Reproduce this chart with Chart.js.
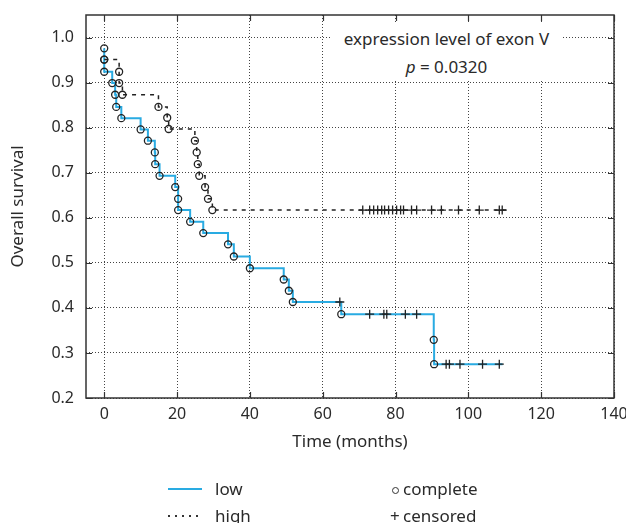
<!DOCTYPE html>
<html>
<head>
<meta charset="utf-8">
<script src="https://cdn.jsdelivr.net/npm/chart.js@4/dist/chart.umd.min.js"></script>
<style>
  html, body { margin: 0; padding: 0; background: #fff; }
  #wrap { position: relative; width: 626px; height: 523px; font-family: "Noto Sans", sans-serif; color: #2a2a2a; }
  #c { position: absolute; left: 0; top: 0; }
  .note { position: absolute; left: 330px; top: 22px; width: 233px; height: 57px; background: #fff; text-align: center; font-size: 17px; }
  .note .l1 { position: absolute; left: 0; right: 0; top: 5px; line-height: 24px; }
  .note .l2 { position: absolute; left: 0; right: 0; top: 33px; line-height: 24px; }
  .lg { position: absolute; font-size: 17px; line-height: 22px; white-space: nowrap; }
  .swatch { position: absolute; }
</style>
</head>
<body>
<div id="wrap">
  <canvas id="c" width="626" height="523"></canvas>
  <div class="note"><div class="l1">expression level of exon V</div><div class="l2"><i>p</i> = 0.0320</div></div>
  <div class="swatch" style="left:168px; top:488px; width:34px; height:2px; background:#29abe2;"></div>
  <div class="lg" style="left:215px; top:478px;">low</div>
  <div class="swatch" style="left:168px; top:515px; width:34px; height:2px; background-image:repeating-linear-gradient(to right,#333 0 2px,transparent 2px 7px);"></div>
  <div class="lg" style="left:215px; top:505px;">high</div>
  <div class="swatch" style="left:392px; top:487px; width:5px; height:5px; border:1.2px solid #333; border-radius:50%;"></div>
  <div class="lg" style="left:403px; top:478px;">complete</div>
  <div class="lg" style="left:390px; top:505px;">+</div>
  <div class="lg" style="left:403px; top:505px;">censored</div>
</div>
<script>
// ---- data ----
const xTicks = [0, 20, 40, 60, 80, 100, 120, 140];
const yTicks = [0.2, 0.3, 0.4, 0.5, 0.6, 0.7, 0.8, 0.9, 1.0];

// "low" group: event times (months) and survival after each event
const lowEventTimes = [0, 0, 0, 2.2, 3.0, 3.3, 4.7, 10.0, 12.0, 13.9, 14.0, 15.2, 19.5, 20.3, 20.3, 23.6, 27.2, 34.0, 35.6, 40.0, 49.3, 50.7, 51.8, 65.1, 90.5, 90.6];
const lowEventSurv  = [0.976, 0.951, 0.924, 0.899, 0.873, 0.846, 0.821, 0.796, 0.771, 0.745, 0.719, 0.693, 0.668, 0.642, 0.617, 0.591, 0.566, 0.541, 0.514, 0.488, 0.463, 0.438, 0.413, 0.386, 0.329, 0.275];
const lowLastTime = 109.4;
const lowCensorTimes = [64.7, 72.9, 76.8, 77.6, 82.7, 85.8, 93.9, 94.8, 97.7, 103.9, 108.5];
const lowCensorSurv  = [0.413, 0.386, 0.386, 0.386, 0.386, 0.386, 0.275, 0.275, 0.275, 0.275, 0.275];

// "high" group
const highEventTimes = [0, 4.1, 4.1, 5.0, 14.9, 17.3, 17.7, 24.9, 25.4, 25.7, 26.1, 27.7, 28.5, 29.7];
const highEventSurv  = [0.951, 0.924, 0.899, 0.873, 0.846, 0.822, 0.797, 0.771, 0.745, 0.719, 0.693, 0.668, 0.642, 0.617];
const highLastTime = 110.4;
const highCensorTimes = [71.0, 72.9, 74.0, 75.1, 76.2, 77.0, 78.1, 79.2, 80.3, 81.4, 82.2, 84.4, 85.8, 89.9, 92.6, 97.3, 103.0, 108.5, 109.3];
const highCensorSurv  = [0.617, 0.617, 0.617, 0.617, 0.617, 0.617, 0.617, 0.617, 0.617, 0.617, 0.617, 0.617, 0.617, 0.617, 0.617, 0.617, 0.617, 0.617, 0.617];

// ---- build library data ----
const pts = (xs, ys) => xs.map((x, i) => ({ x: x, y: ys[i] }));
const lowLine = pts(lowEventTimes, lowEventSurv).concat([{ x: lowLastTime, y: lowEventSurv[lowEventSurv.length - 1] }]);
const highLine = pts(highEventTimes, highEventSurv).concat([{ x: highLastTime, y: highEventSurv[highEventSurv.length - 1] }]);

const FONT = '"Noto Sans", sans-serif';
const INK = '#2a2a2a';

const framePlugin = {
  id: 'frame',
  afterDatasetsDraw(chart) {
    const { ctx, chartArea: a, scales: { x, y } } = chart;
    ctx.save();
    ctx.setLineDash([]);
    ctx.strokeStyle = '#333';
    ctx.lineWidth = 1.2;
    ctx.beginPath();
    x.ticks.forEach(t => {
      const px = Math.round(x.getPixelForValue(t.value)) + 0.5;
      ctx.moveTo(px, a.bottom); ctx.lineTo(px, a.bottom - 6);
      ctx.moveTo(px, a.top); ctx.lineTo(px, a.top + 6);
    });
    y.ticks.forEach(t => {
      const py = Math.round(y.getPixelForValue(t.value)) + 0.5;
      ctx.moveTo(a.left, py); ctx.lineTo(a.left + 6, py);
      ctx.moveTo(a.right, py); ctx.lineTo(a.right - 6, py);
    });
    ctx.stroke();
    ctx.lineWidth = 1.5;
    ctx.strokeRect(a.left, a.top, a.width, a.height);
    ctx.restore();
  }
};

new Chart(document.getElementById('c'), {
  type: 'scatter',
  data: {
    datasets: [
      { label: 'low complete', data: pts(lowEventTimes, lowEventSurv), pointStyle: 'circle', pointRadius: 3.5, borderColor: '#222', borderWidth: 1.3, backgroundColor: 'rgba(0,0,0,0)', showLine: false, order: 0 },
      { label: 'high complete', data: pts(highEventTimes, highEventSurv), pointStyle: 'circle', pointRadius: 3.5, borderColor: '#222', borderWidth: 1.3, backgroundColor: 'rgba(0,0,0,0)', showLine: false, order: 0 },
      { label: 'low censored', data: pts(lowCensorTimes, lowCensorSurv), pointStyle: 'cross', pointRadius: 4.5, borderColor: '#222', borderWidth: 1.3, showLine: false, order: 0 },
      { label: 'high censored', data: pts(highCensorTimes, highCensorSurv), pointStyle: 'cross', pointRadius: 4.5, borderColor: '#222', borderWidth: 1.3, showLine: false, order: 0 },
      { label: 'low', data: lowLine, showLine: true, stepped: 'before', borderColor: '#29abe2', borderWidth: 2, pointRadius: 0, fill: false, order: 2 },
      { label: 'high', data: highLine, showLine: true, stepped: 'before', borderColor: '#222', borderWidth: 1.5, borderDash: [4, 5], pointRadius: 0, fill: false, order: 1 }
    ]
  },
  options: {
    responsive: false,
    animation: false,
    devicePixelRatio: 1,
    layout: { padding: { top: 15, right: 12, left: 0, bottom: 0 } },
    plugins: { legend: { display: false }, tooltip: { enabled: false } },
    scales: {
      x: {
        type: 'linear', min: -5, max: 140,
        afterFit: s => { s.height = 125; s.paddingLeft = 0; s.paddingRight = 0; },
        afterBuildTicks: s => { s.ticks = xTicks.map(v => ({ value: v })); },
        grid: { color: '#444', lineWidth: 1, drawTicks: false },
        border: { display: false, dash: [1, 2] },
        ticks: { padding: 7, color: INK, font: { family: FONT, size: 16 }, callback: v => String(v) },
        title: { display: true, text: 'Time (months)', color: INK, font: { family: FONT, size: 17 }, padding: { top: 0, bottom: 71 } }
      },
      y: {
        type: 'linear', min: 0.2, max: 1.05,
        afterFit: s => { s.width = 86; s.paddingTop = 0; s.paddingBottom = 0; },
        afterBuildTicks: s => { s.ticks = yTicks.map(v => ({ value: v })); },
        grid: { color: '#444', lineWidth: 1, drawTicks: false },
        border: { display: false, dash: [1, 2] },
        ticks: { padding: 12, color: INK, font: { family: FONT, size: 16 }, callback: v => Number(v).toFixed(1) },
        title: { display: true, text: 'Overall survival', color: INK, font: { family: FONT, size: 17 }, padding: { top: 8, bottom: 0 } }
      }
    }
  },
  plugins: [framePlugin]
});
</script>
</body>
</html>
